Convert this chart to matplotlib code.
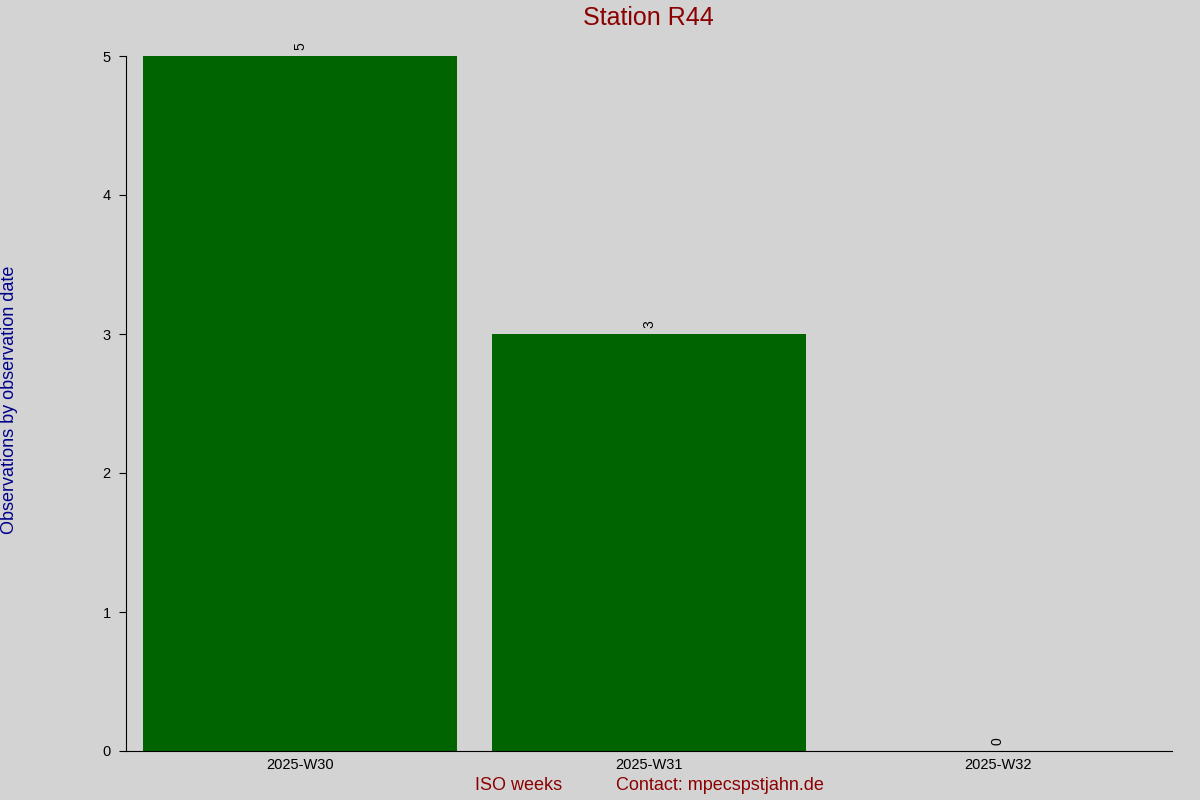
import numpy as np
import matplotlib
matplotlib.use("Agg")
import matplotlib.pyplot as plt

plt.rcParams['font.family'] = ['Liberation Sans', 'DejaVu Sans']

# data
weeks = ['2025-W30', '2025-W31', '2025-W32']
counts = [5, 3, 0]

bg = '#d3d3d3'
fig = plt.figure(figsize=(12, 8), dpi=100, facecolor=bg)
ax = fig.add_axes([126 / 1200, 1 - 751 / 800, (1172 - 126) / 1200, (751 - 56) / 800])
ax.set_facecolor(bg)

x = np.arange(len(weeks))
ax.bar(x, counts, width=0.9, color='#006400')
for xi, c in zip(x, counts):
    ax.text(xi, c + 0.04, str(c), rotation=90, ha='center', va='bottom', fontsize=10)

ax.set_xlim(-0.5, 2.5)
ax.set_ylim(0, 5)
ax.set_xticks(x)
ax.set_xticklabels(weeks, fontsize=10.5)
ax.tick_params(axis='x', length=0, pad=5)
ax.tick_params(axis='y', length=5, labelsize=10.5, pad=6)
for s in ['top', 'right']:
    ax.spines[s].set_visible(False)

fig.text(0.54, 1 - 18 / 800, 'Station R44', color='#8b0000', fontsize=18, ha='center', va='center')
fig.text(10 / 1200, 0.5, 'Observations by observation date', color='#00008b', fontsize=13,
         rotation=90, ha='center', va='center')
fig.text(0.432, 1 - 786 / 800, 'ISO weeks', color='#8b0000', fontsize=13, ha='center', va='center')
fig.text(0.6, 1 - 786 / 800, 'Contact: mpecspstjahn.de', color='#8b0000', fontsize=13, ha='center', va='center')

fig.savefig('out.png', dpi=100, facecolor=bg)
